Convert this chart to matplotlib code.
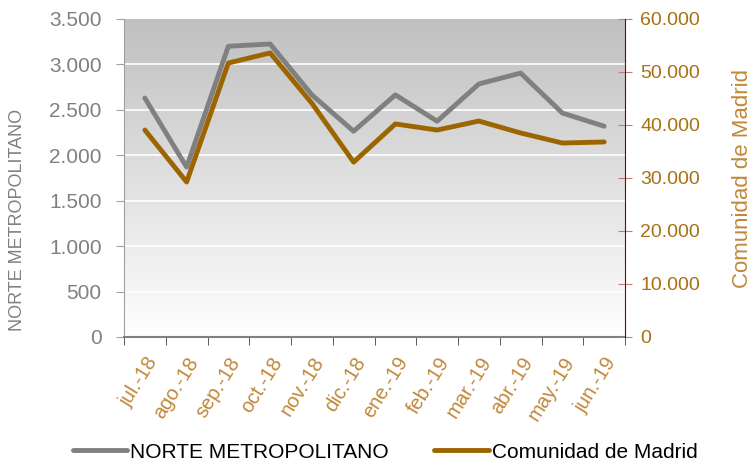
import numpy as np
import matplotlib
matplotlib.use("Agg")
import matplotlib.pyplot as plt

plt.rcParams["font.family"] = ["Liberation Sans", "DejaVu Sans"]

months = ["jul.-18", "ago.-18", "sep.-18", "oct.-18", "nov.-18", "dic.-18",
          "ene.-19", "feb.-19", "mar.-19", "abr.-19", "may.-19", "jun.-19"]
norte = [2630, 1870, 3200, 3225, 2665, 2265, 2665, 2375, 2785, 2905, 2465, 2320]
madrid = [39050, 29250, 51700, 53600, 44100, 33000, 40200, 39050, 40750, 38500, 36600, 36800]
left_ticks = [0, 500, 1000, 1500, 2000, 2500, 3000, 3500]
right_ticks = [0, 10000, 20000, 30000, 40000, 50000, 60000]

GRAY = "#808080"
GOLD = "#9c6500"
TICK_GOLD = "#a8700f"
LABEL_GOLD = "#c0883a"


def dotted(v):
    return f"{v:,}".replace(",", ".")


W, H = 754, 463
fig = plt.figure(figsize=(W / 100, H / 100), dpi=100)
ax = fig.add_axes([124 / W, 1 - 337 / H, 501 / W, 318 / H])
ax2 = ax.twinx()

# gradient background, grey at top fading to white
grad = np.linspace(1, 0, 256).reshape(-1, 1)
ax.imshow(grad, extent=[0, 1, 0, 1], transform=ax.transAxes, aspect="auto",
          cmap=matplotlib.colors.LinearSegmentedColormap.from_list(
              "bg", ["#ffffff", "#c0c0c0"]), zorder=0)
ax.set_facecolor("none")

x = np.arange(len(months))
ax.plot(x, norte, color=GRAY, lw=3.5, solid_capstyle="round", zorder=3,
        label="NORTE METROPOLITANO")
ax2.plot(x, madrid, color=GOLD, lw=3.5, solid_capstyle="round", zorder=3,
         label="Comunidad de Madrid")

ax.set_xlim(-0.5, len(months) - 0.5)
ax.set_ylim(0, 3500)
ax2.set_ylim(0, 60000)

for v in left_ticks[1:-1]:
    ax.axhline(v, color="white", lw=1.2, zorder=1)

ax.set_yticks(left_ticks)
ax.set_yticklabels([dotted(v) for v in left_ticks], fontsize=15)
ax.tick_params(axis="y", colors="#a0a0a0", labelcolor=GRAY, length=6,
               direction="out", pad=10)
ax2.set_yticks(right_ticks)
ax2.set_yticklabels([dotted(v) for v in right_ticks], fontsize=14)
ax2.tick_params(axis="y", colors="#c87878", labelcolor=TICK_GOLD, length=10,
                direction="inout", pad=6)

ax.set_xticks(x)
ax.set_xticklabels(months, rotation=58, ha="right", rotation_mode="anchor",
                   color=LABEL_GOLD, fontsize=14.5)
ax.tick_params(axis="x", length=0, pad=12)
ax.set_xticks(np.arange(len(months) + 1) - 0.5, minor=True)
ax.tick_params(axis="x", which="minor", length=6, color="#404040", direction="out")

for s in ["top", "right"]:
    ax.spines[s].set_visible(False)
for s in ["top", "left", "bottom"]:
    ax2.spines[s].set_visible(False)
ax.spines["left"].set_color("#a0a0a0")
ax.spines["bottom"].set_color(GRAY)
ax.spines["bottom"].set_linewidth(1.5)
ax2.spines["right"].set_color("#800000")

fig.text(18 / W, 1 - 220 / H, "NORTE METROPOLITANO", rotation=90, color=GRAY,
         fontsize=13, ha="center", va="center")
fig.text(743 / W, 1 - 178 / H, "Comunidad de Madrid", rotation=90,
         color=LABEL_GOLD, fontsize=16, ha="center", va="center")

h1, l1 = ax.get_legend_handles_labels()
h2, l2 = ax2.get_legend_handles_labels()
fig.legend(h1 + h2, l1 + l2, loc="center", bbox_to_anchor=(385 / W, 1 - 452 / H),
           ncol=2, frameon=False, fontsize=15, handlelength=2.6,
           handletextpad=0.15, columnspacing=2.2, borderpad=0, borderaxespad=0)

fig.savefig("out.png", dpi=100)
